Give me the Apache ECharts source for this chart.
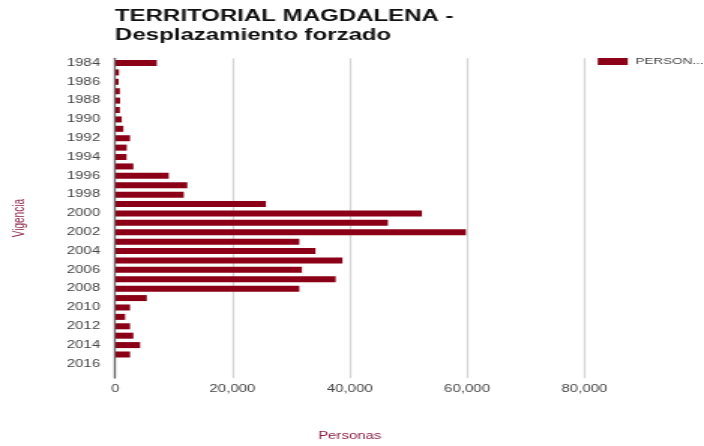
<!DOCTYPE html>
<html>
<head>
<meta charset="utf-8">
<script src="https://cdn.jsdelivr.net/npm/echarts@6/dist/echarts.min.js"></script>
<style>
  html, body { margin: 0; padding: 0; background: #fff; overflow: hidden; }
  #chart { width: 469px; height: 446px; transform: scaleX(1.50107); transform-origin: 0 0; }
</style>
</head>
<body>
<div id="chart"></div>
<script>
const titleLines = ["TERRITORIAL MAGDALENA -", "Desplazamiento forzado"];
const seriesName = "PERSONAS";
const years = ["1984","1985","1986","1987","1988","1989","1990","1991","1992","1993","1994",
  "1995","1996","1997","1998","1999","2000","2001","2002","2003","2004","2005","2006","2007",
  "2008","2009","2010","2011","2012","2013","2014","2015","2016","2017"];
const personas = [7100, 650, 600, 800, 850, 800, 1130, 1400, 2540, 1980, 1950,
  3100, 9140, 12300, 11700, 25700, 52300, 46500, 59800, 31400, 34150, 38750, 31850, 37600,
  31400, 5400, 2540, 1700, 2540, 3100, 4250, 2540, null, null];
const xMin = 0, xMax = 80000, xStep = 20000;
const xAxisTitle = "Personas";
const yAxisTitle = "Vigencia";

const font = "'Liberation Sans', Arial, sans-serif";
const chart = echarts.init(document.getElementById('chart'));
chart.setOption({
  animation: false,
  title: {
    text: titleLines.join('\n'),
    left: 76.6, top: 7, padding: 0,
    textStyle: { fontFamily: font, fontSize: 16, fontWeight: 'bold', color: '#111', lineHeight: 19 }
  },
  legend: {
    left: 398.2, top: 57, padding: 0,
    icon: 'rect', itemWidth: 20, itemHeight: 7,
    textStyle: { fontFamily: font, fontSize: 9, color: '#444', width: 49, overflow: 'truncate', ellipsis: '...' },
    data: [seriesName]
  },
  grid: { left: 76.7, right: 79.7, top: 58.3, bottom: 62.5, containLabel: false },
  xAxis: {
    type: 'value', min: xMin, max: xMax, interval: xStep,
    name: xAxisTitle, nameLocation: 'middle', nameGap: 53,
    nameTextStyle: { fontFamily: font, fontSize: 10, color: '#8b2346' },
    axisLine: { show: false }, axisTick: { show: false },
    axisLabel: { fontFamily: font, fontSize: 10, color: '#444', margin: 6,
      formatter: v => v.toLocaleString('en-US') },
    splitLine: { show: true, lineStyle: { color: '#d6d6d6', width: 1.3 } }
  },
  yAxis: {
    type: 'category', data: years, inverse: true, z: 5,
    name: yAxisTitle, nameLocation: 'middle', nameGap: 58, nameRotate: 90,
    nameTextStyle: { fontFamily: font, fontSize: 10, color: '#8b2346' },
    axisTick: { show: false },
    axisLine: { show: true, lineStyle: { color: '#666', width: 1.3 } },
    axisLabel: { interval: 1, fontFamily: font, fontSize: 10, color: '#444', margin: 10 }
  },
  series: [{
    name: seriesName, type: 'bar', data: personas, barWidth: 6,
    itemStyle: { color: '#8b0016' }
  }]
});
</script>
</body>
</html>
